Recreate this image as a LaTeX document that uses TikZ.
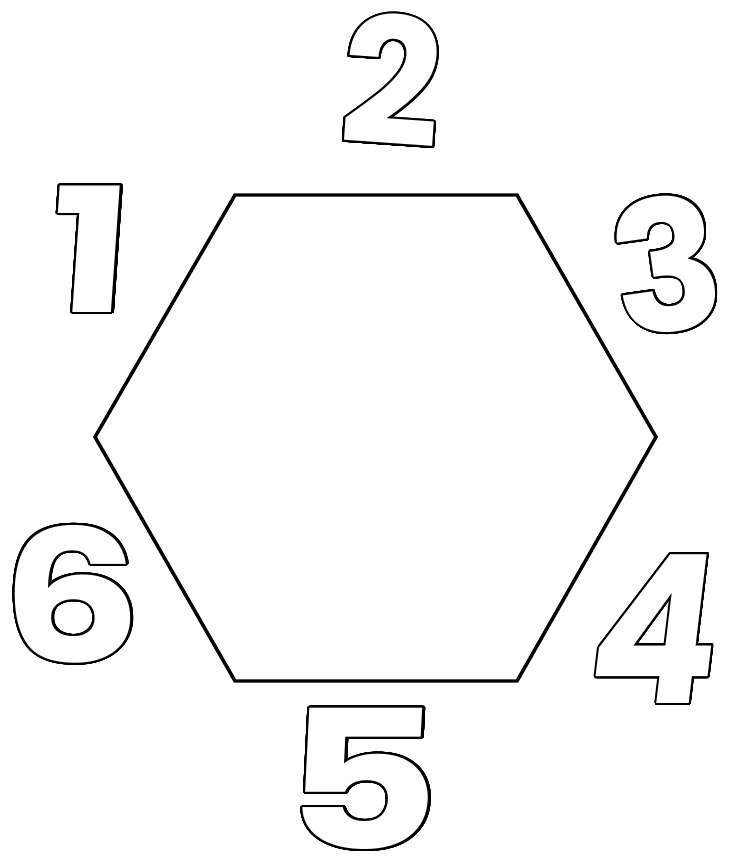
\documentclass[tikz,border=0pt]{standalone}
\usepackage{fontspec}
\newfontfamily\digfont{Poppins}
\usepackage{contour}
\contourlength{1.5pt}
\contournumber{48}
\newcommand{\outdig}[2]{{\digfont\bfseries\fontsize{#1}{#1}\selectfont\contour{black}{\textcolor{white}{#2}}}}
\tikzset{
  hexline/.style={draw=black, line width=2.6pt, line join=miter},
  digit/.style={inner sep=0pt, anchor=center},
}
\begin{document}
\begin{tikzpicture}[x=0.75pt,y=-0.75pt]
\fill[white] (0,0) rectangle (728,859);
\useasboundingbox (0,0) rectangle (728,859);
\coordinate (h1) at (235,195);
\coordinate (h2) at (517,195);
\coordinate (h3) at (656,437);
\coordinate (h4) at (517,681);
\coordinate (h5) at (235,681);
\coordinate (h6) at (95,437);
\draw[hexline] (h1) -- (h2) -- (h3) -- (h4) -- (h5) -- (h6) -- cycle;
\node[digit, rotate=-4] (d2) at (392,81) {\outdig{132}{2}};
\node[digit, xslant=0.07, xscale=1.25] (d1) at (91,250) {\outdig{130}{1}};
\node[digit, rotate=8] (d3) at (667,265) {\outdig{136}{3}};
\node[digit, xscale=1.2] (d6) at (72,595) {\outdig{138}{6}};
\node[digit, xslant=0.12, xscale=0.92] (d4) at (657,630) {\outdig{155}{4}};
\node[digit, xslant=0.05, xscale=1.25] (d5) at (363,780) {\outdig{145}{5}};
\end{tikzpicture}
\end{document}
